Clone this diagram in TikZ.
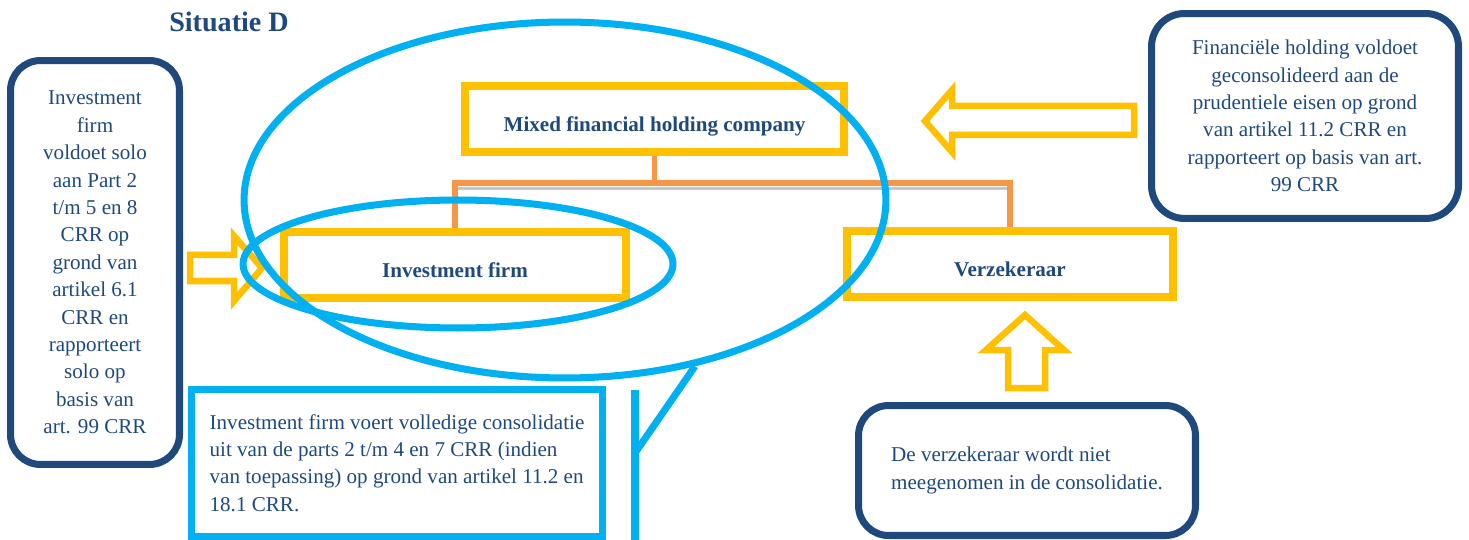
\documentclass[tikz,border=0pt]{standalone}
\usepackage{fontspec}
\setmainfont{Liberation Serif}
\usetikzlibrary{shapes.geometric}
\definecolor{darkblue}{RGB}{31,73,125}
\definecolor{goldyellow}{RGB}{255,192,0}
\definecolor{skyblue}{RGB}{0,176,240}
\definecolor{linkorange}{RGB}{247,150,70}

\begin{document}
\begin{tikzpicture}[x=0.02cm,y=-0.02cm,font=\fontsize{12}{15.6}\selectfont,text=darkblue]

	\tikzset{ent box/.style={draw=goldyellow, line width=4.8pt,
			minimum height=1.32cm, inner sep=0pt,
			text height=14pt, text depth=0pt,
			font=\fontsize{12}{15.6}\selectfont\bfseries}}
	\tikzset{note box/.style={draw=darkblue, line width=4pt,
			rounded corners=0.6cm, align=center, inner sep=0pt}}
	\tikzset{call box/.style={draw=skyblue, line width=4pt,
			align=left, inner sep=0pt}}
	\tikzset{scope ring/.style={ellipse, draw=skyblue, line width=4pt, inner sep=0pt}}
	\tikzset{call line/.style={draw=skyblue, line width=4pt}}
	\tikzset{block arrow/.style={draw=goldyellow, line width=3.7pt, line join=miter}}
	\tikzset{link/.style={draw=linkorange, line width=3pt}}
	\tikzset{link shadow/.style={draw=gray!45, line width=1.6pt}}

	\useasboundingbox (0,0) rectangle (1469,540);

	\node[font=\fontsize{16}{19}\selectfont\bfseries] (title) at (229,22) {Situatie D};

	\node[ent box, minimum width=7.58cm] (mfh) at (654.5,119) {Mixed financial holding company};
	\node[ent box, minimum width=6.84cm] (inv) at (455,265) {Investment firm};
	\node[ent box, minimum width=6.52cm] (verz) at (1010,264) {Verzekeraar};

	\coordinate (bus) at (654.5,183);
	\draw[link shadow, transform canvas={yshift=-3pt}] (inv.north |- bus) -- (verz.north |- bus);
	\draw[link] (mfh.south) -- (bus);
	\draw[link] (inv.north) |- (bus) -| (verz.north);

	\node[note box, minimum width=3.38cm, minimum height=8.08cm] (solonote) at (95,262.5)
	{Investment\\firm\\voldoet solo\\aan Part 2\\t/m 5 en 8\\CRR op\\grond van\\artikel 6.1\\CRR en\\rapporteert\\solo op\\basis van\\art. 99 CRR};
	\node[note box, rounded corners=0.66cm, minimum width=6.14cm, minimum height=4.1cm] (holdnote) at (1305,116)
	{Financiële holding voldoet\\geconsolideerd aan de\\prudentiele eisen op grond\\van artikel 11.2 CRR en\\rapporteert op basis van art.\\99 CRR};
	\node[note box, align=left, minimum width=6.74cm, minimum height=2.6cm] (verznote) at (1027,470.5)
	{De verzekeraar wordt niet\\meegenomen in de consolidatie.};
	\node[call box, minimum width=8.22cm, minimum height=2.94cm] (consnote) at (397,463)
	{Investment firm voert volledige consolidatie\\uit van de parts 2 t/m 4 en 7 CRR (indien\\van toepassing) op grond van artikel 11.2 en\\18.1 CRR.};

	\draw[block arrow] (190,255) -- (234,255) -- (234,236) -- (262,268) -- (234,301) -- (234,281) -- (190,281) -- cycle;
	\draw[block arrow] (925,121) -- (952,90) -- (952,106) -- (1134,106) -- (1134,135) -- (952,135) -- (952,152) -- cycle;
	\draw[block arrow] (1025,315) -- (1064,350) -- (1045,350) -- (1045,388) -- (1008,388) -- (1008,350) -- (986,350) -- cycle;

	\node[scope ring, minimum width=12.84cm, minimum height=7.12cm] (grp) at (565,200) {};
	\node[scope ring, minimum width=8.6cm, minimum height=2.56cm] (solo) at (458,264) {};

	\coordinate (tailknee) at (635,453);
	\coordinate (tailtop) at (635,390);
	\coordinate (tailend) at (635,540);
	\draw[call line] (grp.-52) -- (tailknee);
	\draw[call line] (tailtop) -- (tailend);
\end{tikzpicture}
\end{document}
